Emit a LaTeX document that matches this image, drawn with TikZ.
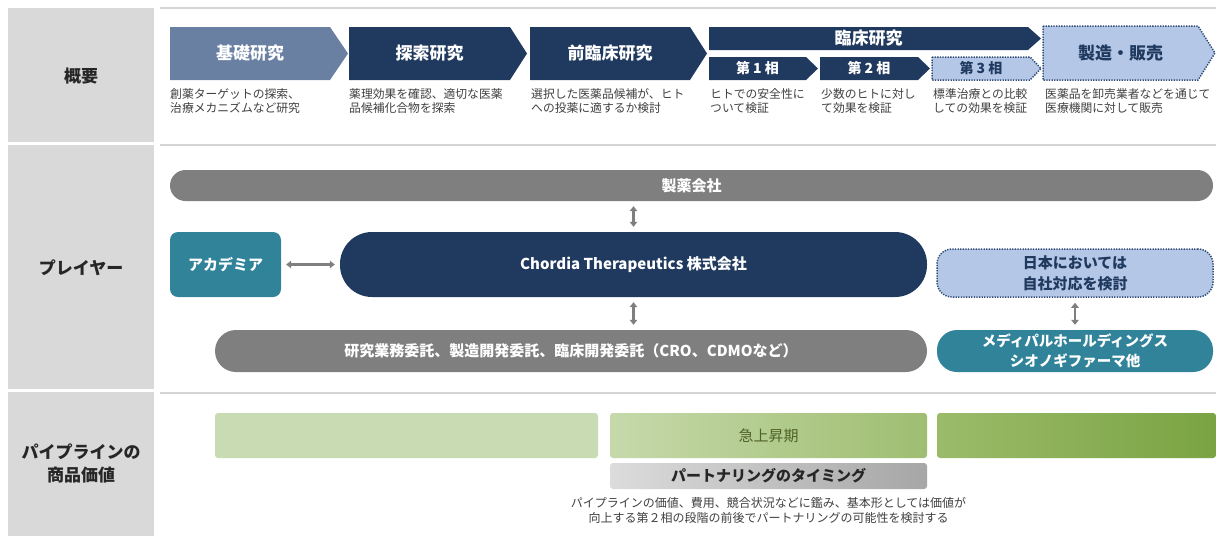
\documentclass[tikz,border=0pt]{standalone}
\usepackage{fontspec}
\setmainfont{Noto Sans CJK JP}
\usetikzlibrary{arrows.meta}
\definecolor{navy}{HTML}{203A5F}
\definecolor{slate}{HTML}{6A80A3}
\definecolor{lblue}{HTML}{B4C7E7}
\definecolor{dotc}{HTML}{2E4A75}
\definecolor{tealc}{HTML}{31839A}
\definecolor{gbar}{HTML}{7F7F7F}
\definecolor{labelbg}{HTML}{D9D9D9}
\definecolor{txt}{HTML}{404040}
\definecolor{sepc}{HTML}{D4D4D4}
\definecolor{gA}{HTML}{C9DBB2}
\definecolor{gB}{HTML}{C6D9AB}
\definecolor{gC}{HTML}{9FBE71}
\definecolor{gD}{HTML}{9BBB6A}
\definecolor{gE}{HTML}{7AA443}
\definecolor{dgreen}{HTML}{4F6228}
\definecolor{pgA}{HTML}{DCDCDC}
\definecolor{pgB}{HTML}{A6A6A6}
\definecolor{dark}{HTML}{262626}

\newcommand\fntA{\bfseries\fontsize{17}{19}\selectfont}
\newcommand\fntB{\bfseries\fontsize{14}{16}\selectfont}
\newcommand\fntC{\bfseries\fontsize{15}{21}\selectfont}
\newcommand\fntL{\bfseries\fontsize{17}{23}\selectfont}

\newcommand\mychev[9]{%
  \path[#7] (#2,#5) -- (#3,#5) -- (#4,{(#5+#6)/2}) -- (#3,#6) -- (#2,#6) -- cycle;
  \node[#7 text, font=#8] (#1) at ({(#2+#3)/2},{(#5+#6)/2}) {#9};
}

\tikzset{
  cdark/.style={fill=navy},
  cdark text/.style={text=white, inner sep=0pt},
  cslate/.style={fill=slate},
  cslate text/.style={text=white, inner sep=0pt},
  clight/.style={fill=lblue, draw=dotc, line width=1.5pt, dash pattern=on 1.3pt off 1.3pt},
  clight text/.style={text=navy, inner sep=0pt},
  desc/.style={anchor=north west, align=left, inner sep=0pt, text=txt, font=\fontsize{11.8}{14}\selectfont},
  sepline/.style={draw=sepc, line width=1.5pt},
  sidelabel/.style={align=center, text=dark, font=\fntL},
  pill/.style={inner sep=0pt, align=center, text=white, font=\fntC},
  twoway/.style={draw=gbar, line width=2.5pt, {Triangle[length=5pt,width=7.5pt]}-{Triangle[length=5pt,width=7.5pt]}, shorten <=5pt, shorten >=5pt},
  greenbar/.style={inner sep=0pt, rounded corners=3pt, minimum height=45},
}

\begin{document}
\begin{tikzpicture}[x=1pt,y=-1pt]
\useasboundingbox[fill=white] (0,0) rectangle (1216,536);

% left column
\fill[labelbg] (8,8) rectangle (154,142);
\fill[labelbg] (8,145) rectangle (154,389);
\fill[labelbg] (8,392) rectangle (154,536);
\node[sidelabel] (lab1) at (81,76) {概要};
\node[sidelabel] (lab2) at (81,268) {プレイヤー};
\node[sidelabel] (lab3) at (81,463) {パイプラインの\\商品価値};

% separators
\draw[sepline] (160,8) -- (1216,8);
\draw[sepline] (160,145) -- (1216,145);
\draw[sepline] (160,393) -- (1216,393);

% chevrons
\mychev{kiso}{170}{330}{348}{27}{80}{cslate}{\fntA}{基礎研究}
\mychev{tansaku}{349}{510}{527}{27}{80}{cdark}{\fntA}{探索研究}
\mychev{zenrin}{530}{690}{707}{27}{80}{cdark}{\fntA}{前臨床研究}
\mychev{rinsho}{709}{1028}{1041}{27}{50}{cdark}{\fntA}{臨床研究}
\mychev{p1}{709}{806}{818}{57}{80}{cdark}{\fntB}{第 1 相}
\mychev{p2}{820}{918}{930}{57}{80}{cdark}{\fntB}{第 2 相}
\mychev{p3}{932}{1030}{1041}{57}{80}{clight}{\fntB}{第 3 相}
\mychev{seizo}{1043}{1198}{1215}{26}{80}{clight}{\fntA}{製造・販売}

% descriptions
\node[desc] (d1) at (170,88) {創薬ターゲットの探索、\\治療メカニズムなど研究};
\node[desc] (d2) at (349,88) {薬理効果を確認、適切な医薬\\品候補化合物を探索};
\node[desc] (d3) at (531,88) {選択した医薬品候補が、ヒト\\への投薬に適するか検討};
\node[desc] (d4) at (710,88) {ヒトでの安全性に\\ついて検証};
\node[desc] (d5) at (821,88) {少数のヒトに対し\\て効果を検証};
\node[desc] (d6) at (933,88) {標準治療との比較\\しての効果を検証};
\node[desc] (d7) at (1045,88) {医薬品を卸売業者などを通じて\\医療機関に対して販売};

% players
\node[pill, fill=gbar, minimum width=1043, minimum height=31, rounded corners=15.5pt] (pharma) at (691.5,185.5) {製薬会社};
\node[pill, fill=tealc, minimum width=111, minimum height=65, rounded corners=8pt] (academia) at (225.5,264.5) {アカデミア};
\node[pill, fill=navy, minimum width=587, minimum height=65, rounded corners=32pt] (chordia) at (633.5,264.5) {Chordia Therapeutics 株式会社};
\node[pill, fill=lblue, draw=dotc, line width=1.5pt, dash pattern=on 1.3pt off 1.3pt, text=navy, minimum width=276, minimum height=48, rounded corners=15pt] (jisha) at (1075,273) {日本においては\\自社対応を検討};
\node[pill, fill=gbar, minimum width=712, minimum height=42, rounded corners=21pt] (cro) at (571,351) {研究業務委託、製造開発委託、臨床開発委託（CRO、CDMOなど）};
\node[pill, fill=tealc, minimum width=276, minimum height=42, rounded corners=20pt, font=\bfseries\fontsize{14.5}{20}\selectfont] (medipal) at (1075,351) {メディパルホールディングス\\シオノギファーマ他};

\draw[twoway] (pharma.south -| chordia.north) -- (chordia.north);
\draw[twoway] (academia.east) -- (chordia.west);
\draw[twoway] (chordia.south) -- (chordia.south |- cro.north);
\draw[twoway] (jisha.south) -- (medipal.north);

% pipeline value
\node[greenbar, fill=gA, minimum width=383] (bar1) at (406.5,435.5) {};
\node[greenbar, left color=gB, right color=gC, minimum width=317, text=dgreen, font=\fontsize{15}{17}\selectfont] (bar2) at (768.5,435.5) {急上昇期};
\node[greenbar, left color=gD, right color=gE, minimum width=279] (bar3) at (1076.5,435.5) {};
\node[inner sep=0pt, rounded corners=3pt, left color=pgA, right color=pgB, minimum width=317, minimum height=26, text=dark, font=\bfseries\fontsize{15}{17}\selectfont] (partner) at (768.5,476) {パートナリングのタイミング};
\node[inner sep=0pt, align=center, text=txt, font=\fontsize{12}{15}\selectfont] (cap) at (768.5,510.5) {パイプラインの価値、費用、競合状況などに鑑み、基本形としては価値が\\向上する第２相の段階の前後でパートナリングの可能性を検討する};
\end{tikzpicture}
\end{document}
